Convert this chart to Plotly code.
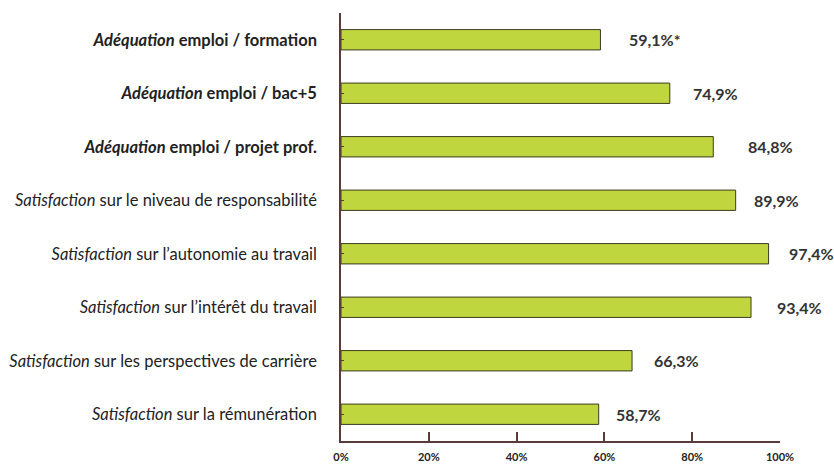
import plotly.graph_objects as go

categories = [
    "<b><i>Adéquation</i> emploi / formation</b>",
    "<b><i>Adéquation</i> emploi / bac+5</b>",
    "<b><i>Adéquation</i> emploi / projet prof.</b>",
    "<i>Satisfaction</i> sur le niveau de responsabilité",
    "<i>Satisfaction</i> sur l’autonomie au travail",
    "<i>Satisfaction</i> sur l’intérêt du travail",
    "<i>Satisfaction</i> sur les perspectives de carrière",
    "<i>Satisfaction</i> sur la rémunération",
]
values = [59.1, 74.9, 84.8, 89.9, 97.4, 93.4, 66.3, 58.7]
value_labels = ["59,1%*", "74,9%", "84,8%", "89,9%", "97,4%", "93,4%", "66,3%", "58,7%"]
tick_vals = [0, 20, 40, 60, 80, 100]
tick_text = ["0%", "20%", "40%", "60%", "80%", "100%"]

# label offsets in pixels from bar end (style)
label_shift = [27, 21, 33, 16, 18, 24, 20, 15]

FONT = "Lato"
fig = go.Figure(go.Bar(
    x=values, y=categories, orientation="h",
    marker=dict(color="#BFD63F", line=dict(color="#3c3c20", width=1)),
    width=0.38,
))
for v, t, s, c in zip(values, value_labels, label_shift, categories):
    fig.add_annotation(x=v, y=c, text="<b>" + t + "</b>", showarrow=False,
                       xanchor="left", xshift=s,
                       font=dict(family=FONT, size=16, color="#333333"))

fig.update_layout(
    width=834, height=464,
    margin=dict(l=341, r=54, t=13, b=23),
    plot_bgcolor="white", paper_bgcolor="white",
    showlegend=False,
    font=dict(family=FONT, size=16, color="#222222"),
)
fig.update_xaxes(range=[0, 100], tickvals=tick_vals, ticktext=tick_text,
                 ticks="inside", ticklen=9, tickcolor="#5a3a3a", tickwidth=1.5,
                 showline=True, linecolor="#5a3a3a", linewidth=1.5,
                 showgrid=False, zeroline=False, automargin=False,
                 tickfont=dict(family=FONT, size=11, color="#222222", weight="bold"),
                 ticklabelstandoff=5)
fig.update_yaxes(autorange="reversed", showline=True, linecolor="#5a3a3a", linewidth=1.5,
                 ticks="inside", ticklen=3, tickcolor="#5a3a3a", automargin=False,
                 showgrid=False, ticklabelstandoff=19,
                 tickfont=dict(family=FONT, size=16.5, color="#222222"))
fig.write_html("out.html", config={"displayModeBar": False},
               post_script="document.body.style.margin='0';document.body.style.overflow='hidden';")
